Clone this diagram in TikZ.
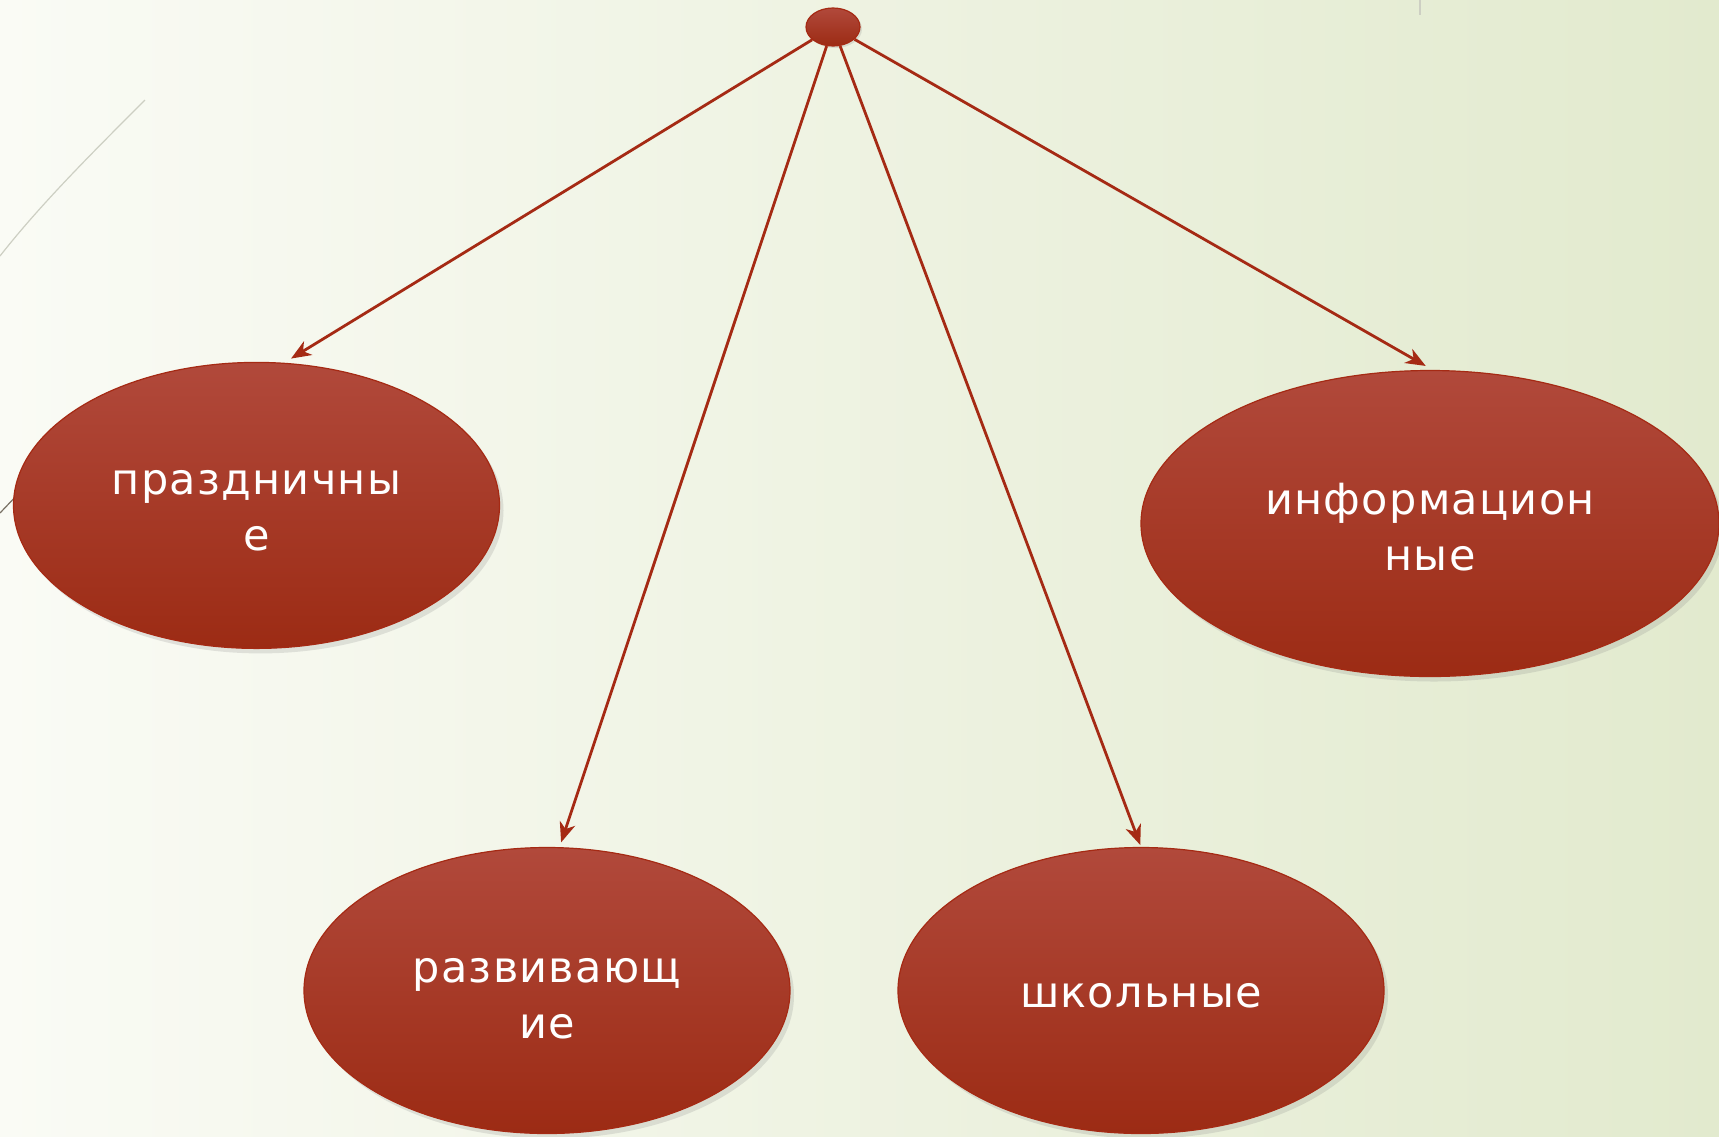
\documentclass[tikz,border=0pt]{standalone}
\usepackage{fontspec}
\setmainfont[LetterSpace=3]{DejaVu Sans}
\usetikzlibrary{shapes.geometric,arrows.meta,shadows}
\definecolor{bgA}{RGB}{250,251,245}
\definecolor{bgB}{RGB}{226,234,206}
\definecolor{redTop}{RGB}{177,73,59}
\definecolor{redBot}{RGB}{156,43,20}
\definecolor{redLine}{RGB}{165,42,20}
\definecolor{decoA}{RGB}{205,207,195}
\definecolor{decoB}{RGB}{120,112,100}
\tikzset{
  bubble/.style={ellipse, draw=redLine, line width=1.2pt, top color=redTop, bottom color=redBot,
    inner sep=0pt,
    drop shadow={opacity=0.2, shadow xshift=4pt, shadow yshift=-5pt}},
  caption/.style={text=white, align=center, inner sep=0pt, font=\fontsize{43}{56}\selectfont},
  hub/.style={ellipse, draw=redLine, line width=1.2pt, top color=redTop, bottom color=redBot,
    inner sep=0pt, minimum width=54pt, minimum height=38pt,
    drop shadow={opacity=0.2, shadow xshift=2pt, shadow yshift=-2pt}},
  link/.style={draw=redLine, line width=2.8pt,
    -{Stealth[length=20pt, width=16pt, inset=6pt]}}
}
\begin{document}
\begin{tikzpicture}[x=1pt,y=-1pt]
\useasboundingbox (0,0) rectangle (1719,1136);
\begin{scope}
\clip (0,0) rectangle (1719,1136);
\shade[shading angle=-40, left color=bgA, right color=bgB] (0,0) rectangle (1719,1136);
% slide decoration
\draw[decoA, line width=1.2pt] (145,100) .. controls (90,155) and (40,205) .. (0,256);
\draw[decoB, line width=1.2pt] (0,513) -- (20,492);
\draw[decoA, line width=1.5pt] (1420,0) -- (1420,15);

\node[hub] (hub) at (833,27) {};
\node[bubble, minimum width=486pt, minimum height=286pt] (e1) at (256.5,505.4) {};
\node[bubble, minimum width=486pt, minimum height=286pt] (e2) at (547,990.5) {};
\node[bubble, minimum width=486pt, minimum height=286pt] (e3) at (1141,990.5) {};
\node[bubble, minimum width=578pt, minimum height=306pt] (e4) at (1430,523.5) {};

\node[caption] (t1) at ([yshift=-5pt]e1.center) {праздничны\\е};
\node[caption] (t2) at ([yshift=-8pt]e2.center) {развивающ\\ие};
\node[caption] (t3) at ([yshift=-5pt]e3.center) {школьные};
\node[caption] (t4) at ([yshift=-4pt]e4.center) {информацион\\ные};

\draw[link, shorten >=8pt] (hub) -- (e1.79);
\draw[link, shorten >=5pt] (hub) -- (e2.85);
\draw[link, shorten >=2pt] (hub) -- (e3.90);
\draw[link, shorten >=8pt] (hub) -- (e4.89);
\end{scope}
\end{tikzpicture}
\end{document}
